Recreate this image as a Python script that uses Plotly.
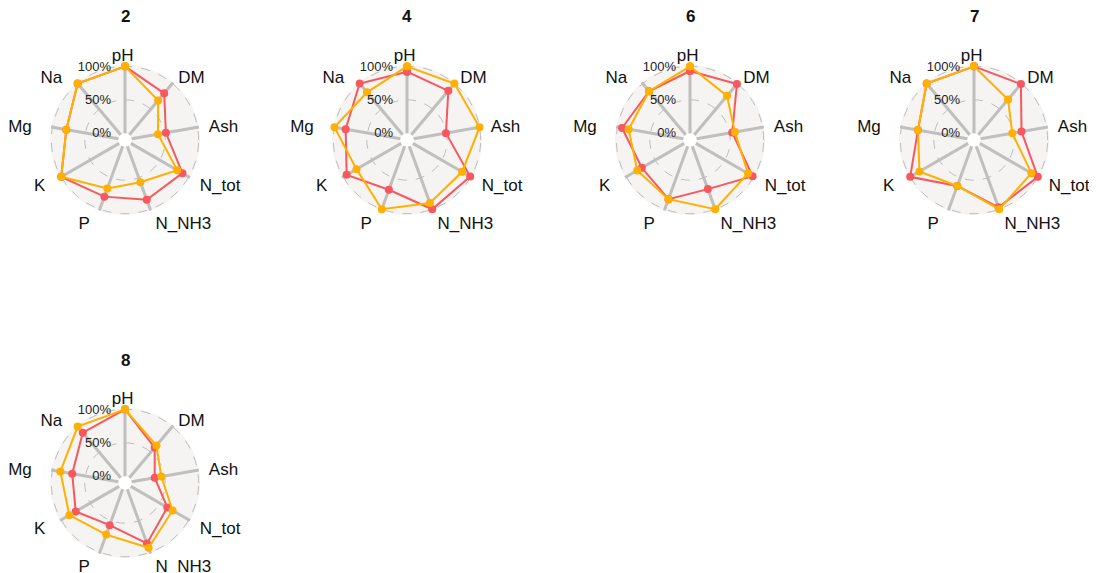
import plotly.graph_objects as go

categories = ["pH", "DM", "Ash", "N_tot", "N_NH3", "P", "K", "Mg", "Na"]
# tick text for the categories (padded with no-break spaces, as in the reference layout)
category_labels = ["pH\u00a0", "\u00a0DM", "\u00a0\u00a0Ash", "\u00a0\u00a0N_tot",
                   "\u00a0N_NH3", "P\u00a0\u00a0", "K\u00a0\u00a0\u00a0", "Mg\u00a0\u00a0\u00a0\u00a0",
                   "Na\u00a0\u00a0\u00a0"]
panel_titles = ["2", "4", "6", "7", "8"]

red_2 = [100, 81, 52, 89, 85, 80, 100, 79, 100]
orange_2 = [100, 67, 40, 80, 57, 67, 100, 79, 100]
red_4 = [92, 86, 49, 99, 100, 69, 94, 83, 100]
orange_4 = [100, 100, 100, 85, 90, 100, 77, 100, 83]
red_6 = [93, 99, 54, 98, 68, 84, 73, 93, 85]
orange_6 = [100, 76, 58, 90, 100, 84, 81, 83, 85]
red_7 = [100, 99, 62, 100, 97, 63, 100, 75, 100]
orange_7 = [100, 69, 48, 89, 100, 63, 84, 75, 100]
red_8 = [100, 59, 35, 63, 86, 57, 75, 70, 88]
orange_8 = [100, 63, 45, 72, 93, 72, 86, 88, 100]

red_series = [red_2, red_4, red_6, red_7, red_8]
orange_series = [orange_2, orange_4, orange_6, orange_7, orange_8]

radial_ticks = [0, 50, 100]
radial_ticktext = ["0%", "50%", "100%"]

RED = "#F8575E"
ORANGE = "#FFB000"

W, H = 1097, 573
centers = [(117, 132), (399, 132), (682, 132), (966, 132), (117, 475)]
R = 75

fig = go.Figure()
for i, (title, rv, ov) in enumerate(zip(panel_titles, red_series, orange_series)):
    pname = "polar" if i == 0 else f"polar{i+1}"
    for vals, col in [(rv, RED), (ov, ORANGE)]:
        fig.add_trace(go.Scatterpolar(
            r=vals + [vals[0]], theta=categories + [categories[0]],
            mode="lines+markers", subplot=pname,
            line=dict(color=col, width=2), marker=dict(color=col, size=8),
            showlegend=False, hoverinfo="skip"))
    cx, cy = centers[i]
    fig.update_layout(**{pname: dict(
        domain=dict(x=[(cx - R) / W, (cx + R) / W], y=[(H - cy - R) / H, (H - cy + R) / H]),
        bgcolor="#F5F4F2",
        hole=0.09,
        radialaxis=dict(range=[0, 102], tickvals=radial_ticks, ticktext=radial_ticktext,
                        angle=90, tickangle=90, side="counterclockwise",
                        showline=False, ticks="outside", ticklen=9,
                        tickcolor="rgba(0,0,0,0)",
                        gridcolor="#BDBDBD", griddash="dash", gridwidth=1,
                        tickfont=dict(size=13, color="#222", family="Arial")),
        angularaxis=dict(direction="clockwise", rotation=90, showline=False, ticks="",
                         tickvals=categories, ticktext=category_labels,
                         gridcolor="#BFBFBF", gridwidth=2.5,
                         tickfont=dict(size=17, color="#111", family="Arial")),
    )})
    fig.add_annotation(x=cx / W, y=(H - cy + 123) / H, xref="paper", yref="paper",
                       xanchor="center", yanchor="middle",
                       text=f"<b>{title}</b>", showarrow=False,
                       font=dict(size=17, color="#111", family="Arial"))

fig.update_layout(width=W, height=H, margin=dict(l=0, r=0, t=0, b=0),
                  paper_bgcolor="white", plot_bgcolor="white")
fig.write_html("out.html")
